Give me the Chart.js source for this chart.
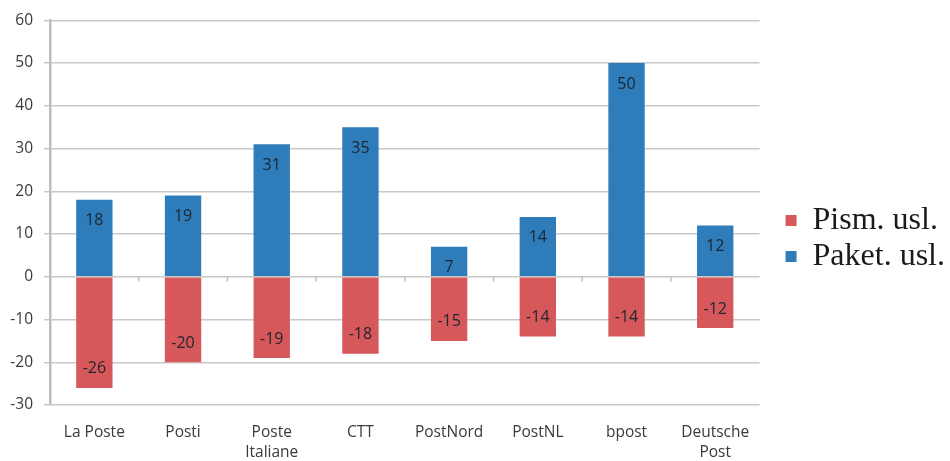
<!DOCTYPE html>
<html>
<head>
<meta charset="utf-8">
<script src="https://cdn.jsdelivr.net/npm/chart.js@4/dist/chart.umd.min.js"></script>
<style>
  html, body { margin: 0; padding: 0; background: #fff; }
  #wrap { width: 950px; height: 461px; }
</style>
</head>
<body>
<div id="wrap"><canvas id="chart_post"></canvas></div>
<script>
const operators = ["La Poste", "Posti", ["Poste", "Italiane"], "CTT", "PostNord", "PostNL", "bpost", ["Deutsche", "Post"]];
const letterVals = [-26, -20, -19, -18, -15, -14, -14, -12];
const parcelVals = [18, 19, 31, 35, 7, 14, 50, 12];
const yTicks = [-30, -20, -10, 0, 10, 20, 30, 40, 50, 60];

const RED = '#d6585a';
const BLUE = '#2e7dba';

// numbers drawn inside each bar, near its outer end + small ticks on the zero line
const barLabels = {
    id: 'barLabels',
    afterDatasetsDraw(chart) {
        const ctx = chart.ctx;
        const xs = chart.scales.x;
        const y0 = chart.scales.y.getPixelForValue(0);
        ctx.save();
        ctx.strokeStyle = '#c0c0c0';
        ctx.lineWidth = 1.5;
        for(let i = 0; i < operators.length - 1; i++){
            const tx = (xs.getPixelForTick(i) + xs.getPixelForTick(i+1)) / 2;
            ctx.beginPath();
            ctx.moveTo(tx, y0);
            ctx.lineTo(tx, y0 + 5);
            ctx.stroke();
        }
        ctx.font = '16px "Open Sans"';
        ctx.fillStyle = '#1c2530';
        ctx.textAlign = 'center';
        ctx.textBaseline = 'middle';
        chart.data.datasets.forEach(function(ds, i){
            chart.getDatasetMeta(i).data.forEach(function(bar, j){
                const v = ds.data[j];
                const y = v >= 0 ? bar.y + 21 : bar.y - 19;
                ctx.fillText(String(v), bar.x, y);
            });
        });
        ctx.restore();
    }
};

const chart_post_ctx = document.getElementById('chart_post').getContext('2d');
const chart_post = new Chart(chart_post_ctx, {
    type: 'bar',
    data: {
        labels: operators,
        datasets: [{
            label: "Pism. usl.",
            backgroundColor: RED,
            data: letterVals,
            categoryPercentage: 1,
            barPercentage: 0.41,
        },
        {
            label: "Paket. usl.",
            backgroundColor: BLUE,
            data: parcelVals,
            categoryPercentage: 1,
            barPercentage: 0.41,
        }],
    },
    options: {
        responsive: true,
        maintainAspectRatio: false,
        animation: false,
        layout: { padding: { top: 16, left: 0, right: -5, bottom: 0 } },
        plugins: {
            tooltip: { enabled: false },
            legend: {
                position: 'right',
                maxWidth: 260,
                labels: {
                    font: { family: '"Liberation Serif"', size: 32 },
                    color: '#1a1a1a',
                    boxWidth: 11,
                    boxHeight: 11,
                    padding: 4,
                }
            }
        },
        scales: {
            x: {
                stacked: true,
                grid: { display: false },
                border: { display: false },
                ticks: {
                    font: { family: '"Open Sans"', size: 15.5, lineHeight: 1.27 },
                    color: '#3a3a3a',
                    maxRotation: 0,
                    autoSkip: false,
                    padding: 10,
                },
                afterFit(scale) { scale.height = 56; }
            },
            y: {
                stacked: true,
                min: -30,
                max: 60,
                afterBuildTicks(scale) { scale.ticks = yTicks.map(function(v){ return { value: v }; }); },
                grid: { color: '#c8c8c8', lineWidth: 1.5, tickLength: 6 },
                border: { color: '#bdbdbd', width: 2.5 },
                ticks: {
                    font: { family: '"Open Sans"', size: 15.5 },
                    color: '#3a3a3a',
                    padding: 11,
                },
                afterFit(scale) { scale.width = 50; }
            },
            // empty axis that only keeps a gap between the plot and the legend
            gap: {
                type: 'linear',
                position: 'right',
                display: true,
                grid: { display: false },
                border: { display: false },
                ticks: { display: false },
                afterFit(scale) { scale.width = 22; }
            }
        }
    },
    plugins: [barLabels]
});
</script>
</body>
</html>
